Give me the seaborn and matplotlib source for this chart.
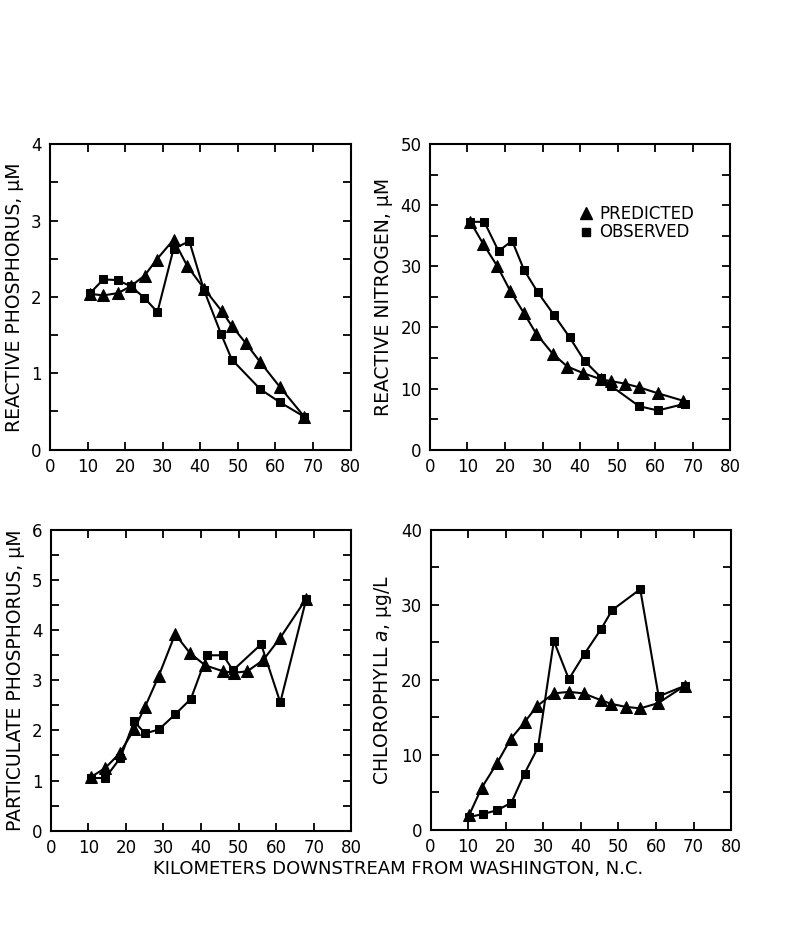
import numpy as np
import pandas as pd
import matplotlib
matplotlib.use("Agg")
import matplotlib.pyplot as plt
from matplotlib.lines import Line2D
from matplotlib.ticker import MultipleLocator
import seaborn as sns

# ------------------------------------------------------------
# Data (km downstream, value)
# ------------------------------------------------------------
# Reactive phosphorus, uM
rp_pred_km = [10.7, 14.2, 18.1, 21.5, 25.2, 28.4, 32.9, 36.6, 41.0, 45.8, 48.4, 52.2, 55.9, 61.2, 67.7]
rp_pred = [2.04, 2.02, 2.05, 2.14, 2.28, 2.49, 2.75, 2.40, 2.11, 1.81, 1.62, 1.39, 1.15, 0.82, 0.43]
rp_obs_km = [10.7, 14.2, 18.0, 21.5, 25.1, 28.6, 32.9, 37.1, 41.0, 45.5, 48.4, 56.0, 61.2, 67.7]
rp_obs = [2.05, 2.23, 2.22, 2.14, 1.99, 1.80, 2.63, 2.73, 2.09, 1.52, 1.18, 0.79, 0.62, 0.43]

# Reactive nitrogen, uM
rn_pred_km = [10.8, 14.2, 18.0, 21.4, 25.1, 28.3, 32.7, 36.6, 40.9, 45.6, 48.3, 51.9, 55.7, 60.8, 67.4]
rn_pred = [37.3, 33.7, 30.0, 26.0, 22.3, 19.0, 15.7, 13.6, 12.5, 11.5, 11.2, 10.8, 10.2, 9.2, 8.0]
rn_obs_km = [10.8, 14.5, 18.3, 21.9, 25.1, 28.7, 33.1, 37.2, 41.2, 45.6, 48.3, 55.7, 60.7, 67.9]
rn_obs = [37.3, 37.3, 32.5, 34.2, 29.4, 25.8, 22.0, 18.4, 14.5, 11.8, 10.4, 7.1, 6.4, 7.5]

# Particulate phosphorus, uM
pp_pred_km = [10.7, 14.5, 18.3, 22.2, 25.1, 28.7, 33.1, 37.1, 41.1, 45.9, 48.7, 52.3, 56.5, 61.1, 68.0]
pp_pred = [1.07, 1.25, 1.54, 2.02, 2.47, 3.08, 3.92, 3.54, 3.30, 3.18, 3.15, 3.18, 3.40, 3.85, 4.63]
pp_obs_km = [10.7, 14.5, 18.5, 22.2, 25.1, 28.8, 33.1, 37.3, 41.6, 45.9, 48.5, 56.0, 61.1, 68.0]
pp_obs = [1.05, 1.05, 1.45, 2.18, 1.94, 2.02, 2.32, 2.63, 3.50, 3.50, 3.20, 3.72, 2.56, 4.62]

# Chlorophyll a, ug/L
ch_pred_km = [10.3, 13.6, 17.7, 21.3, 25.1, 28.3, 32.8, 36.8, 40.7, 45.3, 48.1, 51.9, 55.8, 60.6, 67.6]
ch_pred = [2.0, 5.6, 8.9, 12.1, 14.4, 16.5, 18.2, 18.4, 18.2, 17.3, 16.8, 16.4, 16.2, 16.9, 19.2]
ch_obs_km = [10.3, 14.0, 17.7, 21.5, 25.0, 28.6, 32.8, 36.8, 41.0, 45.4, 48.3, 55.8, 60.7, 67.6]
ch_obs = [1.7, 2.1, 2.6, 3.6, 7.5, 11.0, 25.2, 20.1, 23.5, 26.8, 29.3, 32.1, 17.8, 19.2]

x_ticks = [0, 10, 20, 30, 40, 50, 60, 70, 80]

sns.set_style("ticks")
plt.rcParams["font.family"] = ["DejaVu Sans"]
plt.rcParams["mathtext.fontset"] = "dejavusans"
for key in ["text.color", "axes.labelcolor", "xtick.color", "ytick.color", "axes.edgecolor"]:
    plt.rcParams[key] = "black"

fig = plt.figure(figsize=(7.93, 9.25), dpi=100)

# axes rectangles (figure fractions)
rects = [
    [0.063, 0.514, 0.379, 0.330],
    [0.542, 0.514, 0.379, 0.330],
    [0.064, 0.102, 0.379, 0.325],
    [0.543, 0.103, 0.379, 0.324],
]

panels = [
    (rp_pred_km, rp_pred, rp_obs_km, rp_obs, 4, 1, 0.5, "REACTIVE PHOSPHORUS, μM"),
    (rn_pred_km, rn_pred, rn_obs_km, rn_obs, 50, 10, 5, "REACTIVE NITROGEN, μM"),
    (pp_pred_km, pp_pred, pp_obs_km, pp_obs, 6, 1, 0.5, "PARTICULATE PHOSPHORUS, μM"),
    (ch_pred_km, ch_pred, ch_obs_km, ch_obs, 40, 10, 5, "CHLOROPHYLL $a$, μg/L"),
]

for i, (pk, pv, ok, ov, ymax, ymaj, ymin, ylab) in enumerate(panels):
    ax = fig.add_axes(rects[i])
    df = pd.concat([
        pd.DataFrame({"km": pk, "val": pv, "series": "PREDICTED"}),
        pd.DataFrame({"km": ok, "val": ov, "series": "OBSERVED"}),
    ])
    sns.lineplot(data=df, x="km", y="val", style="series",
                 markers={"PREDICTED": "^", "OBSERVED": "s"},
                 dashes=False, color="black", linewidth=1.5,
                 markersize=5.5, markeredgecolor="black",
                 legend=False, ax=ax, sort=False)
    # triangles a bit bigger than squares, drawn on top
    for ln in ax.lines:
        if ln.get_marker() == "^":
            ln.set_markersize(8.5)
            ln.set_zorder(3)

    ax.set_xlim(0, 80)
    ax.set_ylim(0, ymax)
    ax.set_xticks(x_ticks)
    ax.set_xticklabels([str(t) for t in x_ticks])
    ax.yaxis.set_major_locator(MultipleLocator(ymaj))
    ax.yaxis.set_minor_locator(MultipleLocator(ymin))
    ax.tick_params(which="both", direction="in", top=True, right=True,
                   length=6, width=1.3, labelsize=12, pad=6)
    for sp in ax.spines.values():
        sp.set_linewidth(1.5)
        sp.set_visible(True)
    ax.set_xlabel("")
    ax.set_ylabel(ylab, fontsize=13.5, labelpad=5)

    if i == 1:
        handles = [
            Line2D([], [], marker="^", ls="none", color="black", markersize=8.5),
            Line2D([], [], marker="s", ls="none", color="black", markersize=5.5),
        ]
        ax.legend(handles, ["PREDICTED", "OBSERVED"], loc="upper left",
                  bbox_to_anchor=(0.47, 0.83), frameon=False,
                  fontsize=12, handlelength=0.8, handletextpad=0.4,
                  labelspacing=0.05, borderpad=0)

fig.text(0.502, 0.060, "KILOMETERS DOWNSTREAM FROM WASHINGTON, N.C.",
         ha="center", va="center", fontsize=13)

fig.savefig("out.png", dpi=100, facecolor="white")
